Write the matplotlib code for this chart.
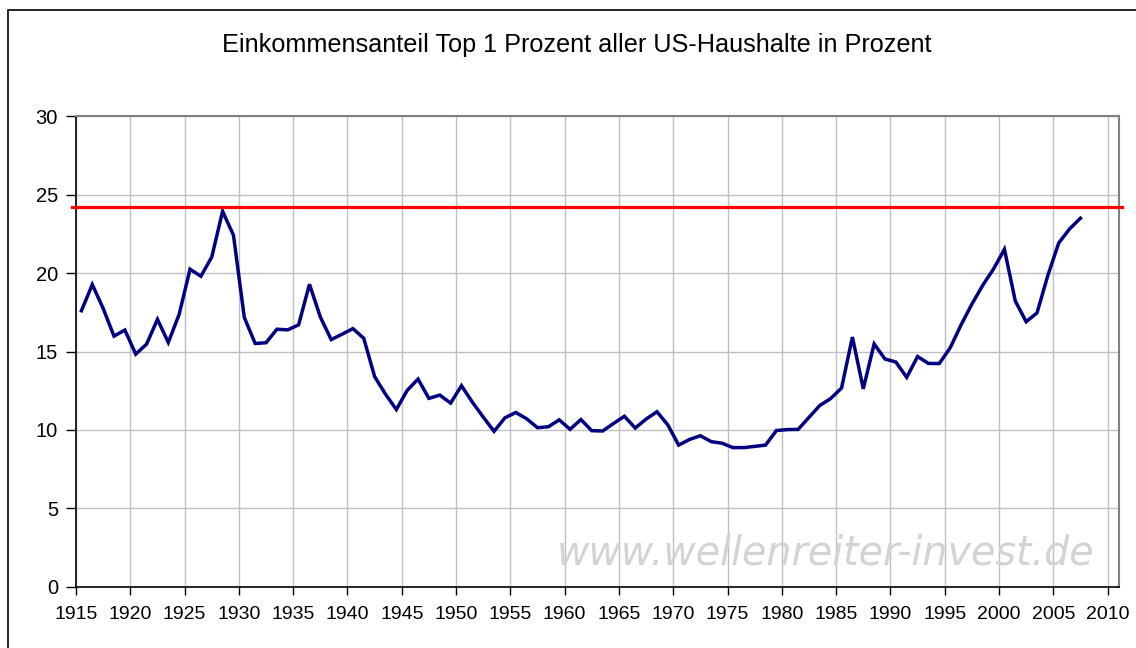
import matplotlib
matplotlib.use("Agg")
import matplotlib.pyplot as plt
from matplotlib.patches import Rectangle
import numpy as np

# ---- data ----
years = list(range(1915, 2008))
top1_share = [
    17.60, 19.27, 17.75, 15.98, 16.37, 14.83, 15.47, 17.05, 15.58, 17.37,  # 1915-1924
    20.25, 19.80, 21.02, 23.94, 22.42, 17.17, 15.51, 15.56, 16.42, 16.38,  # 1925-1934
    16.70, 19.29, 17.20, 15.76, 16.10, 16.46, 15.84, 13.40, 12.28, 11.30,  # 1935-1944
    12.52, 13.24, 12.01, 12.22, 11.71, 12.82, 11.77, 10.82, 9.91, 10.77,   # 1945-1954
    11.11, 10.71, 10.14, 10.20, 10.64, 10.04, 10.66, 9.95, 9.93, 10.41,    # 1955-1964
    10.87, 10.12, 10.69, 11.16, 10.32, 9.03, 9.39, 9.63, 9.25, 9.15,       # 1965-1974
    8.87, 8.87, 8.95, 9.03, 9.96, 10.02, 10.03, 10.80, 11.56, 12.00,       # 1975-1984
    12.67, 15.92, 12.62, 15.48, 14.52, 14.33, 13.35, 14.68, 14.24, 14.23,  # 1985-1994
    15.23, 16.69, 18.02, 19.22, 20.27, 21.52, 18.22, 16.90, 17.46, 19.86,  # 1995-2004
    21.92, 22.82, 23.50,                                                   # 2005-2007
]
reference_level = 24.2
x_ticks = list(range(1915, 2011, 5))
y_ticks = [0, 5, 10, 15, 20, 25, 30]
title = "Einkommensanteil Top 1 Prozent aller US-Haushalte in Prozent"
watermark = "www.wellenreiter-invest.de"

plt.rcParams['font.family'] = ['Liberation Sans', 'DejaVu Sans']

fig = plt.figure(figsize=(11.36, 6.48), dpi=100)
W, H = 1136, 648
ax = fig.add_axes([76 / W, 1 - 586.7 / H, (1119 - 76) / W, (586.7 - 116.3) / H])

# outer chart frame (only left/top visible in the reference)
fig.patches.append(Rectangle((8 / W, -0.1), 1.2, 1 - 10.5 / H + 0.1,
                             transform=fig.transFigure, fill=False,
                             edgecolor='black', linewidth=1.2))

ax.set_xlim(1915, 2011.05)
ax.set_ylim(0, 30)

xs = np.array(years) + 0.5
ax.plot(xs, top1_share, color='#000080', linewidth=2.5, solid_joinstyle='miter', zorder=3)
ax.plot([1914.6, 2011.35], [reference_level, reference_level], color='#ff0000',
        linewidth=2.3, clip_on=False, zorder=4)

ax.set_xticks(x_ticks)
ax.set_xticklabels([str(t) for t in x_ticks])
ax.set_yticks(y_ticks)
ax.grid(True, color='#c0c0c0', linewidth=1.0)
ax.set_axisbelow(True)

for side in ['top', 'right']:
    ax.spines[side].set_color('#808080')
    ax.spines[side].set_linewidth(1.5)
for side in ['left', 'bottom']:
    ax.spines[side].set_color('black')
    ax.spines[side].set_linewidth(1.2)

ax.tick_params(axis='x', direction='out', length=6, width=1, labelsize=14, pad=8)
ax.tick_params(axis='y', direction='out', length=7, width=1, labelsize=14.5, pad=6)

fig.text(577 / W, 1 - 45 / H, title, ha='center', va='center', fontsize=18.2)

fig.text(825 / W, 1 - 553 / H, watermark, ha='center', va='center', fontsize=28.5,
         style='italic', color='#d3d3d3', family=['DejaVu Sans'], zorder=1)

fig.savefig('out.png', dpi=100)
